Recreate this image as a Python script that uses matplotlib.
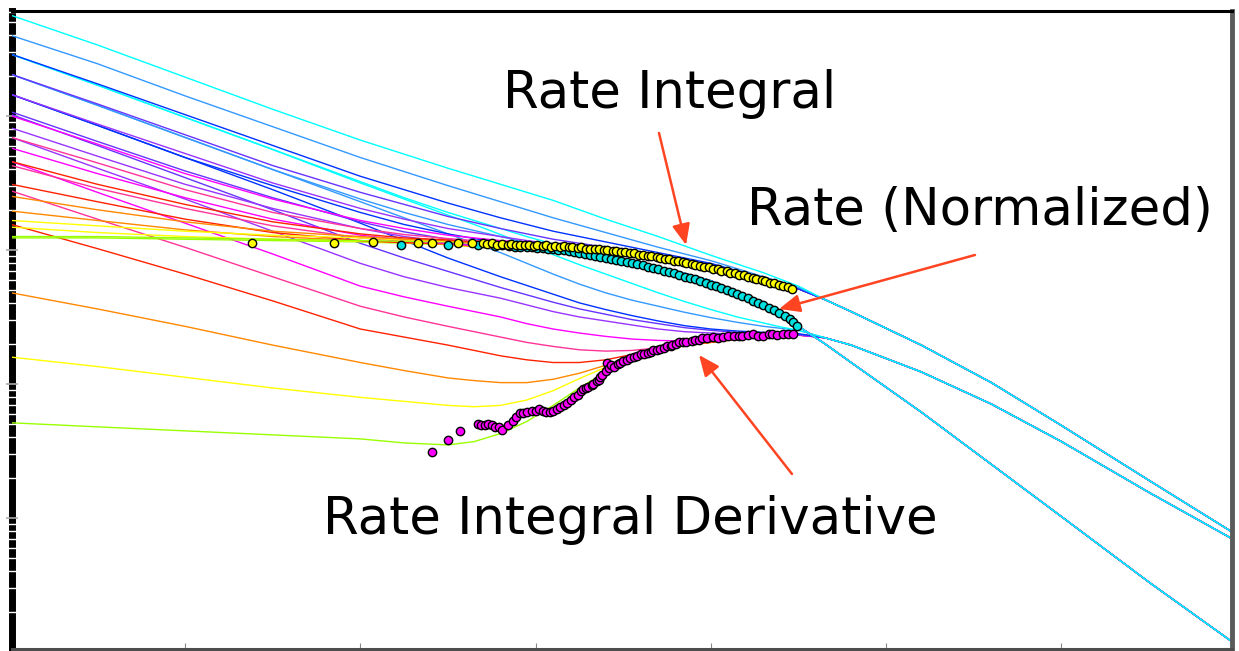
import numpy as np
import matplotlib
matplotlib.use("Agg")
import matplotlib.pyplot as plt
from matplotlib.ticker import LogLocator, NullLocator

# Blasingame-type curve (qDd vs tDd), values as log10
t_log = [-3.99, -3.5, -3.0, -2.5, -2.0, -1.75, -1.5, -1.35, -1.2, -1.05, -0.9, -0.75, -0.6, -0.45,
         -0.3, -0.15, 0.0, 0.15, 0.3, 0.4, 0.5, 0.65, 0.8, 1.2, 1.6, 2.0, 2.5, 2.98]

# envelopes = smallest reD stem (green), also the shared late-time part
rate_env = [0.09, 0.09, 0.08, 0.07, 0.06, 0.05, 0.04, 0.025, 0.01, 0.0, -0.01, -0.03, -0.06, -0.09,
            -0.13, -0.175, -0.23, -0.31, -0.40, -0.48, -0.57, -0.70, -0.84, -1.21, -1.60, -1.99, -2.48, -2.93]
int_env = [0.10, 0.10, 0.09, 0.08, 0.07, 0.065, 0.06, 0.05, 0.04, 0.03, 0.02, 0.005, -0.01, -0.03,
           -0.05, -0.08, -0.12, -0.165, -0.22, -0.255, -0.29, -0.37, -0.46, -0.71, -0.99, -1.31, -1.72, -2.11]
der_env = [-1.29, -1.32, -1.35, -1.38, -1.41, -1.44, -1.455, -1.43, -1.37, -1.28, -1.16, -1.03, -0.91, -0.82,
           -0.755, -0.715, -0.69, -0.665, -0.65, -0.64, -0.63, -0.655, -0.71, -0.91, -1.15, -1.43, -1.81, -2.16]

# transient stems, largest reD (cyan) first; after the last value they follow the envelope
int_stems = [
    [1.75, 1.53, 1.29, 1.05, 0.82, 0.715, 0.61, 0.55, 0.49, 0.43, 0.37, 0.30, 0.23, 0.165, 0.10, 0.03,
     -0.04, -0.105, -0.17, -0.22, -0.27],
    [1.60, 1.39, 1.15, 0.92, 0.69, 0.585, 0.48, 0.42, 0.36, 0.30, 0.24, 0.185, 0.13, 0.075, 0.02, -0.03,
     -0.08, -0.14, -0.20, -0.24, -0.28],
    [1.46, 1.24, 1.01, 0.78, 0.55, 0.45, 0.35, 0.295, 0.24, 0.19, 0.14, 0.10, 0.06, 0.02, -0.02, -0.06,
     -0.10, -0.155, -0.21],
    [1.31, 1.09, 0.86, 0.63, 0.43, 0.34, 0.25, 0.205, 0.16, 0.12, 0.08, 0.05, 0.02, -0.01, -0.04, -0.075, -0.11],
    [1.16, 0.94, 0.72, 0.50, 0.31, 0.23, 0.16, 0.13, 0.10, 0.07, 0.045, 0.025, 0.005, -0.02, -0.045],
    [1.00, 0.79, 0.57, 0.38, 0.22, 0.16, 0.11, 0.09, 0.07, 0.055, 0.04, 0.02, 0.0],
    [0.84, 0.65, 0.45, 0.28, 0.16, 0.115, 0.085, 0.07, 0.055, 0.04, 0.025],
    [0.66, 0.49, 0.34, 0.21, 0.12, 0.09, 0.075, 0.06, 0.045],
    [0.40, 0.30, 0.21, 0.14, 0.10, 0.08, 0.07],
    [0.22, 0.18, 0.14, 0.11, 0.09, 0.075, 0.065],
]
rate_stems = [
    [1.46, 1.23, 0.99, 0.75, 0.51, 0.39, 0.28, 0.22, 0.16, 0.10, 0.045, -0.005, -0.045, -0.08, -0.125],
    [1.31, 1.08, 0.84, 0.60, 0.38, 0.28, 0.19, 0.145, 0.10, 0.055, 0.015, -0.02, -0.055],
    [1.16, 0.93, 0.69, 0.48, 0.28, 0.19, 0.12, 0.085, 0.05, 0.025, 0.0, -0.025],
    [1.03, 0.81, 0.59, 0.39, 0.21, 0.135, 0.08, 0.055, 0.03, 0.01, -0.005],
    [0.91, 0.70, 0.49, 0.31, 0.16, 0.10, 0.06, 0.04, 0.02, 0.005],
    [0.76, 0.57, 0.39, 0.23, 0.11, 0.075, 0.05, 0.035, 0.015],
    [0.63, 0.46, 0.31, 0.18, 0.09, 0.065, 0.05, 0.03],
    [0.49, 0.36, 0.23, 0.13, 0.07, 0.055, 0.045, 0.03],
    [0.29, 0.22, 0.15, 0.10, 0.07, 0.055, 0.045],
    [0.17, 0.13, 0.10, 0.08, 0.065, 0.055],
]
der_stems = [
    [1.46, 1.23, 0.99, 0.75, 0.50, 0.38, 0.26, 0.19, 0.115, 0.04, -0.035, -0.11, -0.18, -0.25, -0.32,
     -0.385, -0.445, -0.50, -0.545, -0.575, -0.60],
    [1.31, 1.08, 0.84, 0.60, 0.36, 0.24, 0.12, 0.05, -0.02, -0.10, -0.18, -0.255, -0.32, -0.375, -0.42,
     -0.465, -0.505, -0.54, -0.57, -0.585, -0.60],
    [1.16, 0.93, 0.69, 0.45, 0.20, 0.07, -0.06, -0.13, -0.20, -0.265, -0.33, -0.395, -0.445, -0.49, -0.53,
     -0.565, -0.59, -0.605, -0.615, -0.62, -0.625],
    [1.01, 0.78, 0.54, 0.30, 0.05, -0.06, -0.16, -0.22, -0.28, -0.335, -0.39, -0.44, -0.48, -0.52, -0.55,
     -0.58, -0.60, -0.615, -0.625, -0.63, -0.63],
    [0.84, 0.61, 0.38, 0.14, -0.10, -0.20, -0.28, -0.32, -0.36, -0.41, -0.46, -0.50, -0.53, -0.56, -0.59,
     -0.61, -0.62, -0.63, -0.635, -0.635, -0.635],
    [0.66, 0.43, 0.20, -0.03, -0.27, -0.35, -0.42, -0.46, -0.50, -0.55, -0.59, -0.62, -0.645, -0.665, -0.675,
     -0.68, -0.675, -0.665, -0.65, -0.64, -0.635],
    [0.44, 0.23, 0.02, -0.20, -0.42, -0.50, -0.57, -0.61, -0.65, -0.69, -0.72, -0.745, -0.755, -0.75, -0.73,
     -0.705, -0.685, -0.665, -0.65, -0.64, -0.635],
    [0.19, 0.01, -0.18, -0.38, -0.59, -0.65, -0.71, -0.75, -0.79, -0.82, -0.84, -0.84, -0.82, -0.78, -0.74,
     -0.71, -0.688, -0.667, -0.652, -0.643, -0.636],
    [-0.32, -0.44, -0.57, -0.71, -0.84, -0.90, -0.955, -0.975, -0.99, -0.99, -0.965, -0.92, -0.86, -0.80, -0.745,
     -0.712],
    [-0.80, -0.87, -0.95, -1.03, -1.10, -1.13, -1.16, -1.17, -1.16, -1.12, -1.05, -0.96, -0.875, -0.81, -0.75],
]
stem_colors = ["#00ffff", "#3399ff", "#0033ff", "#6633ff", "#9933ff",
               "#ff00ff", "#ff3399", "#ff2200", "#ff8800", "#ffff00"]
env_color = "#99ff00"

# well data (log10 tDd, log10 value)
int_data_t = [-2.62, -2.15, -1.93, -1.67, -1.59, -1.44, -1.36, -1.30, -1.28, -1.25, -1.22, -1.19, -1.16,
              -1.14, -1.11, -1.09, -1.06, -1.04, -1.01, -0.99, -0.96, -0.94, -0.91, -0.89, -0.86, -0.84,
              -0.81, -0.79, -0.76, -0.74, -0.71, -0.69, -0.66, -0.64, -0.61, -0.59, -0.56, -0.54, -0.51,
              -0.49, -0.46, -0.44, -0.41, -0.39, -0.36, -0.34, -0.31, -0.29, -0.26, -0.24, -0.21, -0.19,
              -0.16, -0.14, -0.11, -0.09, -0.06, -0.04, -0.01, 0.01, 0.04, 0.06, 0.09, 0.11, 0.14, 0.16,
              0.19, 0.21, 0.24, 0.26, 0.29, 0.31, 0.34, 0.36, 0.39, 0.41, 0.44, 0.46]
int_data_q = [0.05, 0.05, 0.06, 0.05, 0.05, 0.05, 0.05, 0.05, 0.045, 0.05, 0.04, 0.045, 0.04,
              0.045, 0.035, 0.04, 0.035, 0.04, 0.03, 0.035, 0.03, 0.035, 0.025, 0.03, 0.025, 0.03,
              0.02, 0.02, 0.015, 0.02, 0.01, 0.01, 0.005, 0.01, 0.0, 0.0, -0.01, -0.005, -0.015,
              -0.015, -0.025, -0.025, -0.035, -0.035, -0.045, -0.045, -0.055, -0.06, -0.065, -0.07, -0.08, -0.085,
              -0.09, -0.10, -0.105, -0.11, -0.12, -0.125, -0.13, -0.14, -0.145, -0.155, -0.16, -0.17, -0.175, -0.185,
              -0.19, -0.20, -0.21, -0.215, -0.225, -0.235, -0.245, -0.25, -0.26, -0.27, -0.28, -0.29]
rate_data_t = [-1.77, -1.50, -1.33, -1.23, -1.19, -1.15, -1.12, -1.09, -1.05, -1.02, -0.99, -0.96, -0.93,
               -0.90, -0.87, -0.84, -0.81, -0.78, -0.75, -0.72, -0.69, -0.66, -0.63, -0.60, -0.57, -0.54,
               -0.51, -0.48, -0.45, -0.42, -0.39, -0.36, -0.33, -0.30, -0.27, -0.24, -0.21, -0.18, -0.15,
               -0.12, -0.09, -0.06, -0.03, 0.00, 0.03, 0.06, 0.09, 0.12, 0.15, 0.18, 0.21, 0.24, 0.27,
               0.30, 0.33, 0.36, 0.39, 0.42, 0.45, 0.47, 0.49]
rate_data_q = [0.04, 0.04, 0.04, 0.03, 0.035, 0.03, 0.025, 0.025, 0.02, 0.02, 0.015, 0.015, 0.01,
               0.005, 0.0, 0.0, -0.01, -0.015, -0.02, -0.03, -0.035, -0.045, -0.05, -0.06, -0.065, -0.075,
               -0.08, -0.09, -0.10, -0.105, -0.115, -0.125, -0.135, -0.145, -0.155, -0.165, -0.175, -0.19, -0.20,
               -0.21, -0.22, -0.235, -0.245, -0.26, -0.27, -0.285, -0.30, -0.315, -0.33, -0.345, -0.36, -0.38, -0.395,
               -0.41, -0.43, -0.45, -0.47, -0.49, -0.515, -0.54, -0.57]
der_data_t = [-1.59, -1.50, -1.43, -1.33, -1.31, -1.29, -1.27, -1.25, -1.23, -1.21, -1.19, -1.16, -1.13,
              -1.11, -1.09, -1.07, -1.05, -1.02, -1.00, -0.98, -0.96, -0.94, -0.92, -0.90, -0.88, -0.86,
              -0.84, -0.82, -0.80, -0.78, -0.76, -0.74, -0.73, -0.71, -0.70, -0.68, -0.67, -0.65, -0.64,
              -0.63, -0.62, -0.60, -0.59, -0.58, -0.57, -0.55, -0.53, -0.52, -0.50, -0.48, -0.46, -0.44,
              -0.42, -0.40, -0.38, -0.36, -0.34, -0.33, -0.31, -0.29, -0.27, -0.25, -0.23, -0.22, -0.20,
              -0.18, -0.16, -0.14, -0.11, -0.09, -0.07, -0.05, -0.02, 0.01, 0.04, 0.07, 0.10, 0.13, 0.16,
              0.18, 0.21, 0.24, 0.27, 0.30, 0.33, 0.35, 0.38, 0.41, 0.44, 0.47]
der_data_q = [-1.51, -1.42, -1.35, -1.30, -1.31, -1.31, -1.30, -1.31, -1.32, -1.32, -1.34, -1.31, -1.28,
              -1.25, -1.22, -1.22, -1.21, -1.20, -1.20, -1.19, -1.20, -1.21, -1.21, -1.20, -1.19, -1.17,
              -1.16, -1.14, -1.12, -1.10, -1.08, -1.05, -1.04, -1.03, -1.02, -1.01, -1.00, -0.98, -0.97,
              -0.95, -0.93, -0.90, -0.84, -0.88, -0.86, -0.87, -0.85, -0.84, -0.83, -0.82, -0.81, -0.80,
              -0.79, -0.78, -0.775, -0.77, -0.76, -0.75, -0.745, -0.74, -0.73, -0.72, -0.715, -0.71, -0.70,
              -0.69, -0.69, -0.69, -0.68, -0.67, -0.67, -0.66, -0.66, -0.65, -0.655, -0.65, -0.645, -0.64, -0.645,
              -0.64, -0.635, -0.63, -0.64, -0.64, -0.63, -0.63, -0.635, -0.63, -0.625, -0.63]

labels = ["Rate Integral", "Rate (Normalized)", "Rate Integral Derivative"]


def full_stem(stem, env):
    # stem values first, then the envelope once the stem has merged
    return np.power(10.0, list(stem) + list(env[len(stem):]))


fig = plt.figure(figsize=(12.39, 6.51), dpi=100)
ax = fig.add_axes([0.00969, 0.00307, 0.98467, 0.98080])
ax.set_xscale("log")
ax.set_yscale("log")
t = np.power(10.0, t_log)

for stems, env in [(der_stems, der_env), (rate_stems, rate_env), (int_stems, int_env)]:
    ax.plot(t, np.power(10.0, env), color=env_color, lw=1.0)
    for stem, col in reversed(list(zip(stems, stem_colors))):
        ax.plot(t, full_stem(stem, env), color=col, lw=1.0)

mk = dict(ls="none", marker="o", markeredgecolor="black", markeredgewidth=1.0, ms=6)
ax.plot(np.power(10.0, rate_data_t), np.power(10.0, rate_data_q), markerfacecolor="#00e0e0", **mk)
ax.plot(np.power(10.0, int_data_t), np.power(10.0, int_data_q), markerfacecolor="#ffff00", **mk)
ax.plot(np.power(10.0, der_data_t), np.power(10.0, der_data_q), markerfacecolor="#ff00ff", **mk)

ax.set_xlim(10 ** -3.987, 10 ** 2.973)
ax.set_ylim(10 ** -2.978, 10 ** 1.787)

# ticks, no labels
ax.xaxis.set_major_locator(LogLocator(base=10, numticks=20))
ax.xaxis.set_minor_locator(NullLocator())
ax.yaxis.set_major_locator(LogLocator(base=10, numticks=20))
ax.yaxis.set_minor_locator(LogLocator(base=10, subs=np.arange(2, 10), numticks=20))
ax.tick_params(axis="x", which="major", direction="in", length=4.5, width=0.8,
               color="#888888", labelbottom=False, top=False)
ax.tick_params(axis="y", which="both", direction="inout", labelleft=False, right=False)
ax.tick_params(axis="y", which="major", length=8, width=1.2, color="#aaaaaa")
ax.tick_params(axis="y", which="minor", length=6, width=1.0, color="white")

ax.spines["left"].set_linewidth(5)
ax.spines["left"].set_color("black")
ax.spines["left"].set_zorder(1)
ax.spines["top"].set_linewidth(2.2)
ax.spines["top"].set_color("black")
ax.spines["right"].set_linewidth(3.5)
ax.spines["right"].set_color("#5a5a5a")
ax.spines["bottom"].set_linewidth(2.2)
ax.spines["bottom"].set_color("#4d4d4d")

txt = dict(transform=ax.transAxes, ha="center", va="baseline", fontsize=37,
           family="DejaVu Sans", color="black")
ax.text(0.539, 0.847, labels[0], **txt)
ax.text(0.793, 0.664, labels[1], **txt)
ax.text(0.507, 0.180, labels[2], **txt)

arrow = dict(arrowstyle="-|>,head_length=0.7,head_width=0.3", color="#ff4422",
             lw=1.8, mutation_scale=18, shrinkA=0, shrinkB=0)
for tail, head in [((0.5303, 0.8082), (0.5525, 0.6327)),
                   ((0.7893, 0.6171), (0.6287, 0.5325)),
                   ((0.6393, 0.2741), (0.5631, 0.4605))]:
    ax.annotate("", xy=head, xytext=tail, xycoords="axes fraction",
                textcoords="axes fraction", arrowprops=arrow)

fig.savefig("out.png", dpi=100)
